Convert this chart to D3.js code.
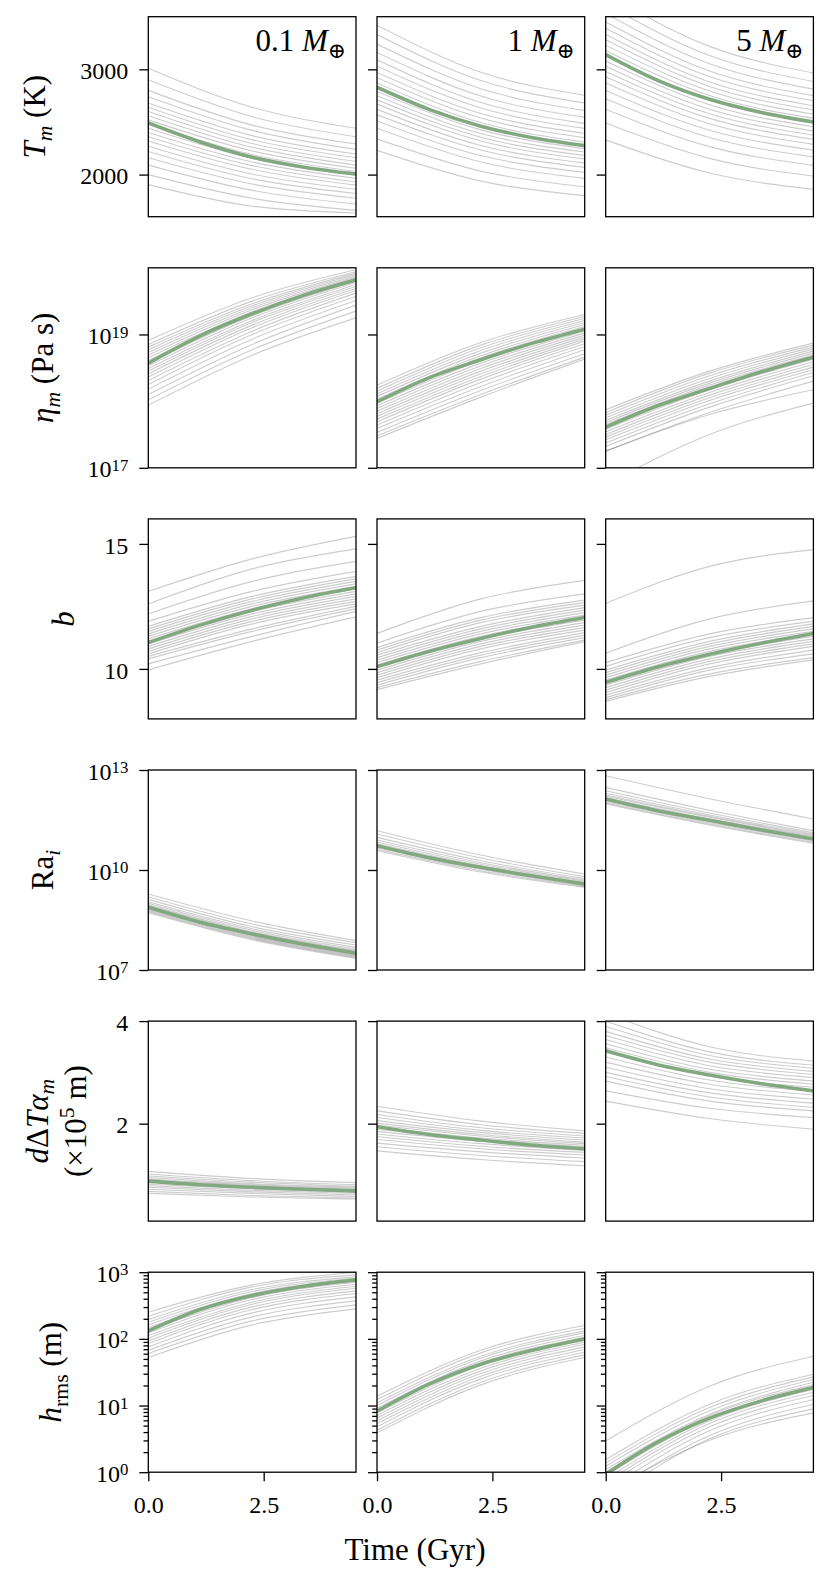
<!DOCTYPE html>
<html>
<head>
<meta charset="utf-8">
<script src="https://cdn.jsdelivr.net/npm/d3@7"></script>
<style>
  body { margin: 0; background: #fff; }
  svg { display: block; }
  svg text { font-family: "Liberation Serif", "DejaVu Serif", serif; white-space: pre; }
</style>
</head>
<body>
<svg id="chart" width="830" height="1585"></svg>
<script>
// time grids (Gyr): medians are read at quarter points, ensemble members at start / middle / end
const times = [0, 1.125, 2.25, 3.375, 4.5];
const memberTimes = [0, 2.25, 4.5];
const massLabels = ['0.1', '1', '5'];
const xTicks = [0, 2.5];

// ---- T_m (K) ----
const tmTicks = [2000, 3000];
const tmMedian = [
  [2490, 2310, 2165, 2070, 2005],
  [2830, 2620, 2460, 2350, 2275],
  [3140, 2895, 2715, 2590, 2500]
];
const tmMembers = [
  [[3010, 2640, 2440], [2900, 2550, 2360], [2800, 2470, 2290], [2740, 2420, 2240], [2680, 2370, 2195],
   [2640, 2330, 2160], [2600, 2295, 2125], [2560, 2260, 2090], [2520, 2225, 2060], [2480, 2190, 2030],
   [2440, 2155, 1995], [2400, 2120, 1965], [2360, 2085, 1930], [2320, 2050, 1900], [2270, 2005, 1860],
   [2220, 1960, 1820], [2160, 1910, 1775], [2090, 1850, 1720], [2000, 1775, 1660], [1905, 1700, 1635]],
  [[3420, 2972, 2753], [3330, 2894, 2681], [3240, 2816, 2608], [3160, 2746, 2544], [3090, 2685, 2487],
   [3030, 2633, 2439], [2970, 2581, 2391], [2920, 2537, 2351], [2870, 2494, 2310], [2830, 2459, 2278],
   [2790, 2425, 2246], [2750, 2390, 2214], [2710, 2355, 2182], [2670, 2320, 2149], [2620, 2277, 2109],
   [2570, 2233, 2069], [2510, 2181, 2021], [2440, 2120, 1964], [2340, 2033, 1884], [2230, 1938, 1800]],
  [[3720, 3218, 2965], [3620, 3131, 2885], [3530, 3053, 2813], [3450, 2984, 2750], [3390, 2932, 2702],
   [3330, 2880, 2654], [3280, 2837, 2614], [3230, 2794, 2574], [3180, 2751, 2534], [3130, 2707, 2495],
   [3080, 2664, 2455], [3030, 2621, 2415], [2980, 2578, 2375], [2930, 2534, 2335], [2870, 2483, 2287],
   [2800, 2422, 2232], [2720, 2353, 2168], [2620, 2266, 2088], [2490, 2154, 1985], [2330, 2015, 1860]]
];

// ---- eta_m (Pa s), stored as log10 ----
const etaTicks = [1e17, 1e19];
const etaMedianLog10 = [
  [18.57, 18.98, 19.31, 19.59, 19.82],
  [17.99, 18.35, 18.62, 18.87, 19.08],
  [17.61, 17.93, 18.19, 18.44, 18.66]
];
const etaMembersLog10 = [
  [[18.91, 19.55, 19.97], [18.85, 19.50, 19.94], [18.81, 19.46, 19.92], [18.77, 19.43, 19.90], [18.73, 19.40, 19.88],
   [18.69, 19.37, 19.86], [18.65, 19.34, 19.84], [18.61, 19.31, 19.82], [18.57, 19.28, 19.80], [18.53, 19.25, 19.78],
   [18.49, 19.21, 19.75], [18.45, 19.18, 19.72], [18.41, 19.14, 19.69], [18.36, 19.10, 19.66], [18.31, 19.05, 19.62],
   [18.25, 19.00, 19.57], [18.18, 18.93, 19.51], [18.10, 18.85, 19.44], [18.02, 18.77, 19.35], [17.94, 18.69, 19.25]],
  [[18.24, 18.88, 19.30], [18.19, 18.84, 19.27], [18.15, 18.80, 19.24], [18.11, 18.76, 19.21], [18.07, 18.72, 19.18],
   [18.03, 18.68, 19.15], [18.00, 18.65, 19.12], [17.97, 18.61, 19.09], [17.93, 18.57, 19.05], [17.89, 18.53, 19.02],
   [17.85, 18.49, 18.99], [17.81, 18.45, 18.96], [17.77, 18.41, 18.93], [17.73, 18.37, 18.90], [17.69, 18.33, 18.86],
   [17.64, 18.28, 18.82], [17.59, 18.22, 18.77], [17.53, 18.16, 18.71], [17.48, 18.10, 18.66], [17.44, 18.06, 18.63]],
  [[17.87, 18.45, 18.87], [17.83, 18.42, 18.84], [17.79, 18.38, 18.81], [17.75, 18.34, 18.78], [17.71, 18.30, 18.75],
   [17.68, 18.27, 18.72], [17.65, 18.24, 18.69], [17.62, 18.21, 18.66], [17.58, 18.17, 18.63], [17.54, 18.13, 18.59],
   [17.50, 18.09, 18.55], [17.46, 18.05, 18.51], [17.42, 18.01, 18.47], [17.37, 17.96, 18.43], [17.32, 17.91, 18.38],
   [17.25, 17.83, 18.30], [17.25, 17.80, 18.17], [16.75, 17.50, 17.97]]
];

// ---- b ----
const bTicks = [10, 15];
const bMedian = [
  [11.05, 11.75, 12.35, 12.85, 13.25],
  [10.09, 10.70, 11.22, 11.68, 12.06],
  [9.46, 10.08, 10.59, 11.03, 11.42]
];
const bMembers = [
  [[13.1, 14.4, 15.3], [12.6, 14.0, 14.8], [12.2, 13.5, 14.3], [11.9, 13.1, 13.9], [11.7, 12.9, 13.7],
   [11.6, 12.8, 13.6], [11.5, 12.7, 13.5], [11.4, 12.6, 13.4], [11.3, 12.5, 13.3], [11.2, 12.4, 13.2],
   [11.1, 12.3, 13.1], [11.0, 12.2, 13.0], [10.9, 12.1, 12.9], [10.8, 12.0, 12.8], [10.7, 11.9, 12.7],
   [10.6, 11.8, 12.6], [10.5, 11.6, 12.5], [10.4, 11.5, 12.4], [10.2, 11.3, 12.3], [9.96, 11.1, 12.08]],
  [[11.42, 12.8, 13.54], [11.03, 12.3, 13.0], [10.85, 12.05, 12.75], [10.75, 11.95, 12.65], [10.65, 11.85, 12.55],
   [10.55, 11.7, 12.45], [10.45, 11.6, 12.35], [10.35, 11.5, 12.25], [10.25, 11.4, 12.15], [10.15, 11.3, 12.05],
   [10.05, 11.2, 11.95], [9.95, 11.1, 11.85], [9.85, 11.0, 11.75], [9.75, 10.9, 11.65], [9.65, 10.8, 11.55],
   [9.55, 10.65, 11.45], [9.45, 10.55, 11.35], [9.35, 10.45, 11.25], [9.25, 10.3, 11.15], [9.17, 10.2, 11.09]],
  [[12.62, 14.1, 14.77], [10.63, 12.0, 12.72], [10.25, 11.4, 12.05], [10.1, 11.25, 11.9], [9.95, 11.1, 11.8],
   [9.85, 11.0, 11.7], [9.75, 10.9, 11.6], [9.65, 10.8, 11.5], [9.55, 10.7, 11.4], [9.45, 10.6, 11.3],
   [9.35, 10.5, 11.2], [9.25, 10.4, 11.1], [9.15, 10.3, 11.0], [9.05, 10.2, 10.9], [8.95, 10.05, 10.75],
   [8.85, 9.95, 10.6], [8.77, 9.8, 10.45], [8.7, 9.7, 10.36]]
];

// ---- Ra_i, stored as log10 ----
const raTicks = [1e7, 1e10, 1e13];
const raMedianLog10 = [
  [8.88, 8.43, 8.08, 7.77, 7.50],
  [10.73, 10.37, 10.08, 9.82, 9.58],
  [12.13, 11.78, 11.49, 11.20, 10.93]
];
const raMembersLog10 = [
  [[9.28, 8.47, 7.88], [9.2, 8.38, 7.82], [9.12, 8.3, 7.75], [9.05, 8.24, 7.68], [9.0, 8.19, 7.63],
   [8.96, 8.15, 7.59], [8.93, 8.12, 7.56], [8.9, 8.09, 7.53], [8.87, 8.06, 7.5], [8.84, 8.03, 7.47],
   [8.81, 8.0, 7.44], [8.78, 7.97, 7.41], [8.75, 7.94, 7.38], [8.72, 7.91, 7.35]],
  [[11.18, 10.45, 9.88], [11.08, 10.36, 9.8], [10.98, 10.28, 9.74], [10.9, 10.22, 9.7], [10.84, 10.17, 9.66],
   [10.79, 10.13, 9.62], [10.75, 10.1, 9.59], [10.71, 10.06, 9.56], [10.67, 10.02, 9.53], [10.62, 9.98, 9.5],
   [10.58, 9.94, 9.48]],
  [[12.83, 12.14, 11.53], [12.48, 11.79, 11.18], [12.38, 11.71, 11.12], [12.3, 11.65, 11.08], [12.25, 11.61, 11.05],
   [12.21, 11.58, 11.02], [12.17, 11.54, 10.99], [12.13, 11.5, 10.95], [12.09, 11.46, 10.91], [12.05, 11.42, 10.87],
   [12.01, 11.38, 10.83], [11.98, 11.35, 10.8]]
];

// ---- d DeltaT alpha_m (x1e5 m) ----
const dtaTicks = [2, 4];
const dtaMedian = [
  [0.88, 0.81, 0.76, 0.72, 0.69],
  [1.94, 1.79, 1.68, 1.58, 1.51],
  [3.42, 3.15, 2.95, 2.78, 2.64]
];
const dtaMembers = [
  [[1.07, 0.93, 0.85], [1.02, 0.89, 0.81], [0.98, 0.86, 0.78], [0.95, 0.83, 0.76], [0.92, 0.81, 0.74],
   [0.9, 0.79, 0.72], [0.87, 0.77, 0.7], [0.85, 0.75, 0.68], [0.82, 0.73, 0.66], [0.79, 0.7, 0.64],
   [0.76, 0.67, 0.61], [0.72, 0.64, 0.58], [0.68, 0.6, 0.55], [0.64, 0.57, 0.53]],
  [[2.34, 2.05, 1.86], [2.25, 1.98, 1.81], [2.18, 1.92, 1.76], [2.12, 1.87, 1.72], [2.06, 1.83, 1.68],
   [2.01, 1.79, 1.64], [1.97, 1.76, 1.61], [1.93, 1.72, 1.58], [1.89, 1.69, 1.55], [1.85, 1.66, 1.52],
   [1.8, 1.61, 1.48], [1.75, 1.56, 1.44], [1.69, 1.51, 1.39], [1.62, 1.45, 1.33], [1.55, 1.38, 1.26],
   [1.47, 1.3, 1.18]],
  [[4.15, 3.5, 3.22], [4.0, 3.4, 3.14], [3.9, 3.33, 3.08], [3.8, 3.26, 3.02], [3.72, 3.2, 2.96],
   [3.64, 3.13, 2.9], [3.56, 3.06, 2.83], [3.48, 3.0, 2.77], [3.4, 2.93, 2.71], [3.3, 2.85, 2.63],
   [3.2, 2.77, 2.56], [3.1, 2.68, 2.48], [3.0, 2.6, 2.4], [2.92, 2.52, 2.32], [2.83, 2.44, 2.25],
   [2.64, 2.3, 2.12], [2.44, 2.1, 1.89]]
];

// ---- h_rms (m), stored as log10 ----
const hTicks = [1, 10, 100, 1000];
const hMinorTicks = [2, 3, 4, 5, 6, 7, 8, 9, 20, 30, 40, 50, 60, 70, 80, 90, 200, 300, 400, 500, 600, 700, 800, 900];
const hMedianLog10 = [
  [2.12, 2.44, 2.65, 2.79, 2.885],
  [0.915, 1.32, 1.62, 1.83, 2.0],
  [-0.03, 0.45, 0.81, 1.07, 1.27]
];
const hMembersLog10 = [
  [[2.4, 2.81, 3.0], [2.34, 2.78, 2.96], [2.29, 2.74, 2.93], [2.25, 2.71, 2.91], [2.21, 2.68, 2.89],
   [2.17, 2.65, 2.87], [2.13, 2.62, 2.85], [2.09, 2.59, 2.82], [2.05, 2.55, 2.79], [2.01, 2.52, 2.76],
   [1.97, 2.48, 2.72], [1.93, 2.44, 2.68], [1.88, 2.39, 2.63], [1.83, 2.33, 2.57], [1.78, 2.27, 2.51],
   [1.72, 2.21, 2.45]],
  [[1.14, 1.83, 2.2], [1.09, 1.79, 2.16], [1.04, 1.74, 2.12], [1.0, 1.71, 2.09], [0.96, 1.67, 2.05],
   [0.93, 1.64, 2.02], [0.89, 1.6, 1.98], [0.85, 1.56, 1.95], [0.81, 1.52, 1.92], [0.77, 1.48, 1.88],
   [0.73, 1.44, 1.84], [0.68, 1.4, 1.8], [0.63, 1.35, 1.76], [0.59, 1.31, 1.72]],
  [[0.47, 1.29, 1.74], [0.19, 1.02, 1.47], [0.14, 0.97, 1.43], [0.09, 0.92, 1.39], [0.04, 0.87, 1.35],
   [0.0, 0.85, 1.31], [-0.05, 0.81, 1.28], [-0.1, 0.77, 1.24], [-0.15, 0.73, 1.2], [-0.2, 0.68, 1.15],
   [-0.27, 0.62, 1.09], [-0.35, 0.55, 1.02], [-0.42, 0.5, 0.95], [-0.3, 0.48, 0.89]]
];

// ---- layout ----
const marginLeft = 148.3, marginTop = 16.7, panelW = 207.7, panelH = 200, gapX = 21, rowStep = 251.1;
const F_TICK = 24, F_LABEL = 31;
const GREEN = '#82a880';

const rows = [
  { median: tmMedian, members: tmMembers, log: false, domain: [1600, 3500], ticks: tmTicks,
    label: [{ t: 'T', it: 1 }, { t: 'm', it: 1, sub: 1 }, { t: ' (K)' }] },
  { median: etaMedianLog10, members: etaMembersLog10, log: true, domain: [1e17, 1e20], ticks: etaTicks,
    label: [{ t: 'η', it: 1 }, { t: 'm', it: 1, sub: 1 }, { t: ' (Pa s)' }] },
  { median: bMedian, members: bMembers, log: false, domain: [8, 16], ticks: bTicks,
    label: [{ t: 'b', it: 1 }] },
  { median: raMedianLog10, members: raMembersLog10, log: true, domain: [1e7, 1e13], ticks: raTicks,
    label: [{ t: 'Ra' }, { t: 'i', it: 1, sub: 1 }] },
  { median: dtaMedian, members: dtaMembers, log: false, domain: [0.1, 4], ticks: dtaTicks,
    label: [{ t: 'd', it: 1 }, { t: 'Δ' }, { t: 'T', it: 1 }, { t: 'α', it: 1 }, { t: 'm', it: 1, sub: 1 },
            { br: 1 }, { t: '(×10' }, { t: '5', sup: 1 }, { t: ' m)' }] },
  { median: hMedianLog10, members: hMembersLog10, log: true, domain: [1, 1000], ticks: hTicks, minor: hMinorTicks,
    label: [{ t: 'h', it: 1 }, { t: 'rms', sub: 1 }, { t: ' (m)' }] }
];

const svg = d3.select('#chart');
svg.append('rect').attr('width', 830).attr('height', 1585).attr('fill', '#fff');

// small helper for math-like text: italics, sub/superscripts, line breaks
function rich(text, parts, F) {
  let shift = 0;
  let newLine = false;
  parts.forEach(p => {
    if (p.br) { newLine = true; return; }
    const target = p.sub ? 0.22 * F : p.sup ? -0.4 * F : 0;
    const ts = text.append('tspan').text(p.t);
    if (newLine) {
      ts.attr('x', 0).attr('dy', 1.25 * F + target - shift);
      newLine = false;
    } else {
      ts.attr('dy', target - shift);
    }
    if (p.sub || p.sup) ts.attr('font-size', 0.7 * F);
    if (p.it) ts.attr('font-style', 'italic');
    shift = target;
  });
}

const x = d3.scaleLinear().domain([0, 4.5]).range([0, panelW]);

function styleAxis(a) {
  a.attr('font-family', null).attr('font-size', F_TICK);
  a.select('.domain').remove();
  a.selectAll('.tick line').attr('stroke', '#000').attr('stroke-width', 1.3);
  a.selectAll('.tick text').attr('fill', '#000');
}

rows.forEach((row, r) => {
  const py = marginTop + r * rowStep;
  const y = (row.log ? d3.scaleLog() : d3.scaleLinear()).domain(row.domain).range([panelH, 0]);
  const val = v => row.log ? Math.pow(10, v) : v;
  const line = d3.line().x(d => x(d[0])).y(d => y(d[1])).curve(d3.curveMonotoneX);

  for (let c = 0; c < 3; c++) {
    const px = marginLeft + c * (panelW + gapX);
    const g = svg.append('g').attr('transform', `translate(${px},${py})`);
    const id = `clip-${r}-${c}`;
    g.append('clipPath').attr('id', id).append('rect').attr('width', panelW).attr('height', panelH);
    const plot = g.append('g').attr('clip-path', `url(#${id})`);

    plot.selectAll('path.member')
      .data(row.members[c])
      .join('path')
      .attr('class', 'member')
      .attr('d', d => line(d.map((v, i) => [memberTimes[i], val(v)])))
      .attr('fill', 'none')
      .attr('stroke', '#000')
      .attr('stroke-opacity', 0.2)
      .attr('stroke-width', 1.1);

    plot.append('path')
      .datum(row.median[c])
      .attr('d', d => line(d.map((v, i) => [times[i], val(v)])))
      .attr('fill', 'none')
      .attr('stroke', GREEN)
      .attr('stroke-width', 3.6);

    g.append('rect')
      .attr('width', panelW).attr('height', panelH)
      .attr('fill', 'none').attr('stroke', '#000').attr('stroke-width', 1.3);

    // minor ticks (h_rms only)
    if (row.minor) {
      const mi = g.append('g').call(d3.axisLeft(y).tickValues(row.minor).tickSize(4.8).tickFormat(() => ''));
      styleAxis(mi);
    }

    const ya = g.append('g').call(
      d3.axisLeft(y).tickValues(row.ticks).tickSize(9).tickPadding(11)
        .tickFormat(c === 0 ? (row.log ? () => '' : d3.format('d')) : () => '')
    );
    styleAxis(ya);
    ya.selectAll('.tick text').attr('dy', '0.38em');
    if (c === 0 && row.log) {
      ya.selectAll('.tick text').each(function (d) {
        const t = d3.select(this);
        t.append('tspan').text('10');
        t.append('tspan').attr('dy', -0.27 * F_TICK).attr('font-size', 0.7 * F_TICK)
          .text(Math.round(Math.log10(d)));
      });
    }

    if (r === rows.length - 1) {
      const xa = g.append('g').attr('transform', `translate(0,${panelH})`)
        .call(d3.axisBottom(x).tickValues(xTicks).tickSize(9).tickPadding(15).tickFormat(d3.format('.1f')));
      styleAxis(xa);
    }

    if (r === 0) {
      const title = g.append('text')
        .attr('x', panelW - 10).attr('y', 34)
        .attr('text-anchor', 'end').attr('font-size', F_LABEL);
      rich(title, [{ t: massLabels[c] + ' ' }, { t: 'M', it: 1 }, { t: '⊕', sub: 1 }], F_LABEL);
    }

    if (c === 0) {
      const tickBox = ya.node().getBBox();
      const lab = g.append('text').attr('text-anchor', 'middle').attr('font-size', F_LABEL);
      rich(lab, row.label, F_LABEL);
      const bb = lab.node().getBBox();
      const tx = tickBox.x - 23 - (bb.y + bb.height);
      const cy = panelH / 2 - (row.label.some(p => p.br) ? 0 : 0);
      lab.attr('transform', `translate(${tx},${cy}) rotate(-90)`);
    }
  }
});

svg.append('text')
  .attr('x', 415).attr('y', 1560)
  .attr('text-anchor', 'middle').attr('font-size', F_LABEL)
  .text('Time (Gyr)');
</script>
</body>
</html>
